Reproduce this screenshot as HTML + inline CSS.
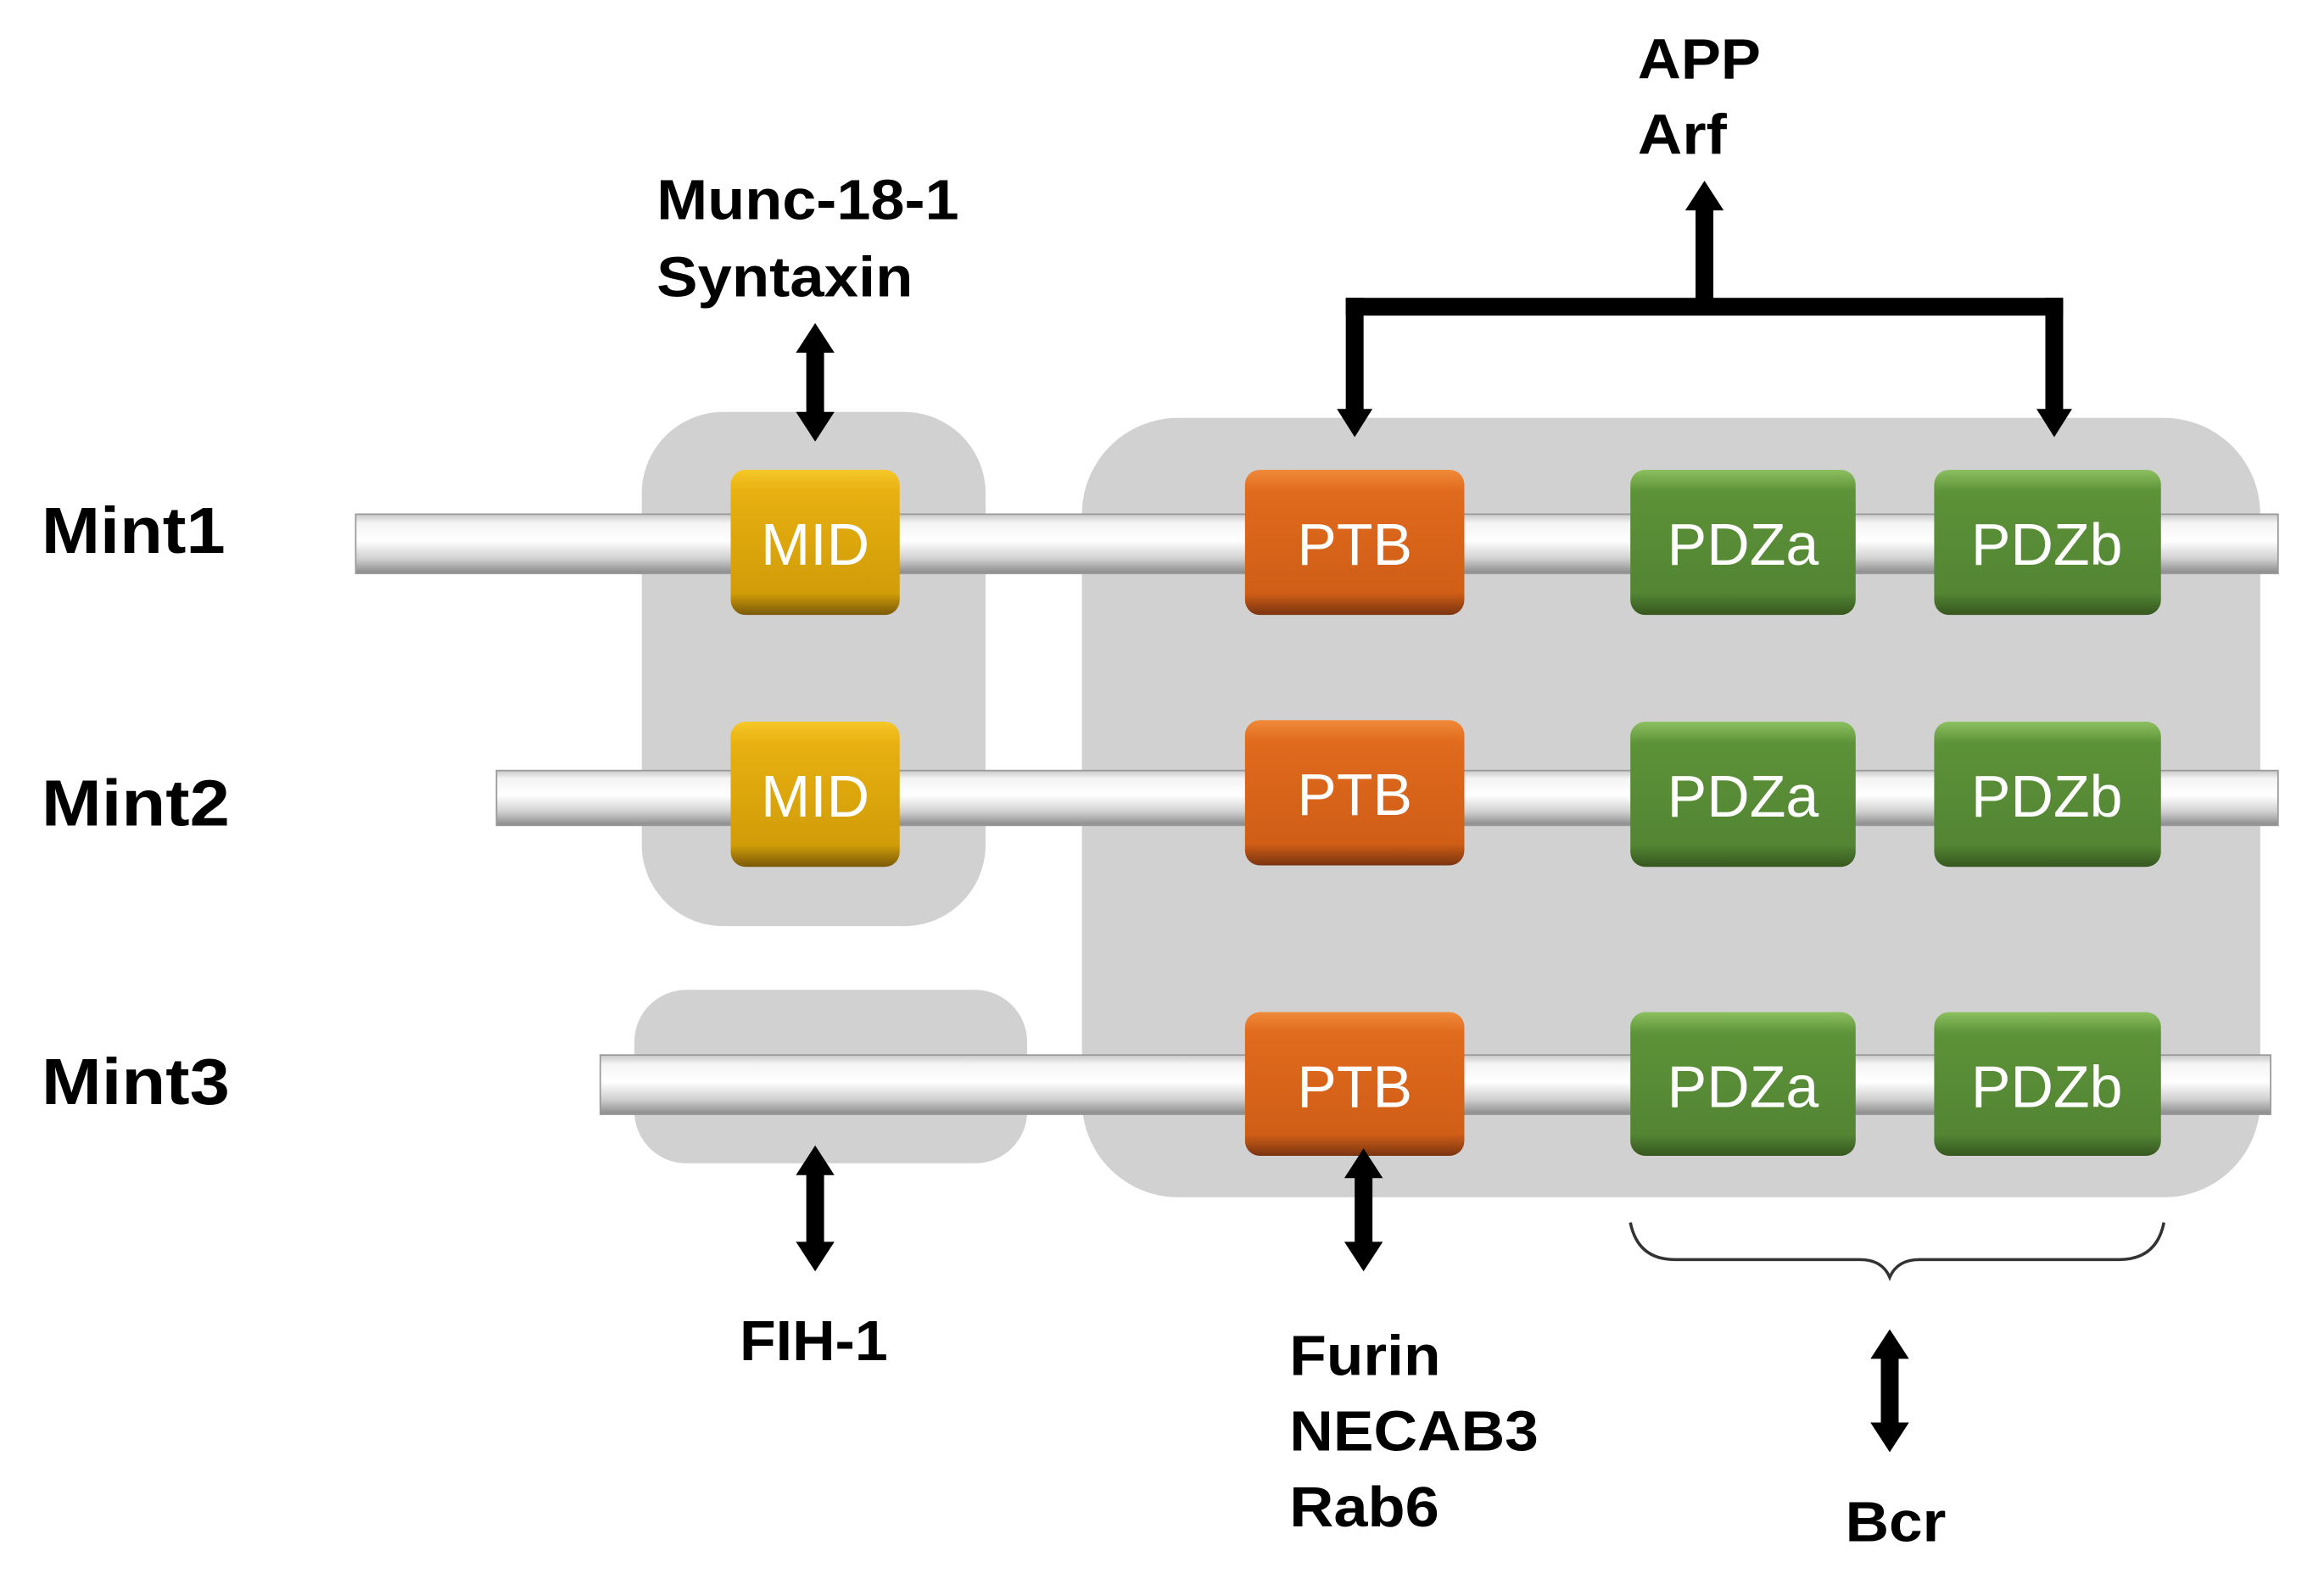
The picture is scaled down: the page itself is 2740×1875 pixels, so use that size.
<!DOCTYPE html>
<html><head><meta charset="utf-8"><style>html,body{margin:0;padding:0;background:#fff}svg{display:block}</style></head>
<body>
<svg width="2740" height="1875" viewBox="0 0 1568 1073" preserveAspectRatio="none" xmlns="http://www.w3.org/2000/svg">
<defs>
<linearGradient id="bar" x1="0" y1="0" x2="0" y2="1">
<stop offset="0" stop-color="#c8c8c8"/><stop offset="0.15" stop-color="#f4f4f4"/><stop offset="0.45" stop-color="#ffffff"/><stop offset="0.75" stop-color="#d0d0d0"/><stop offset="1" stop-color="#8a8a8a"/></linearGradient>
<linearGradient id="gy" x1="0" y1="0" x2="0" y2="1"><stop offset="0" stop-color="#f5c828"/><stop offset="0.15" stop-color="#e8b010"/><stop offset="0.85" stop-color="#d09c08"/><stop offset="1" stop-color="#7a5a08"/></linearGradient>
<linearGradient id="go" x1="0" y1="0" x2="0" y2="1"><stop offset="0" stop-color="#f08a3a"/><stop offset="0.15" stop-color="#e06a1e"/><stop offset="0.85" stop-color="#d05e16"/><stop offset="1" stop-color="#7a3410"/></linearGradient>
<linearGradient id="gg" x1="0" y1="0" x2="0" y2="1"><stop offset="0" stop-color="#8cc060"/><stop offset="0.15" stop-color="#5c9238"/><stop offset="0.85" stop-color="#538533"/><stop offset="1" stop-color="#36571f"/></linearGradient>
</defs>
<g fill="#d2d1d2">
<rect x="433" y="278" width="232" height="347" rx="55"/>
<rect x="428" y="668" width="265" height="117" rx="35"/>
<rect x="730" y="282" width="795" height="526" rx="65"/>
</g>
<g fill="url(#bar)" stroke="#9a9a9a" stroke-width="1">
<rect x="240" y="347" width="1297" height="40"/>
<rect x="335" y="520" width="1202" height="37"/>
<rect x="405" y="712" width="1127" height="40"/>
</g>
<g font-family="Liberation Sans, sans-serif" font-size="40" fill="#fff" text-anchor="middle">
<rect x="493" y="317" width="114" height="98" rx="10" fill="url(#gy)"/><text x="550" y="381">MID</text>
<rect x="493" y="487" width="114" height="98" rx="10" fill="url(#gy)"/><text x="550" y="551">MID</text>
<rect x="840" y="317" width="148" height="98" rx="10" fill="url(#go)"/><text x="914" y="381">PTB</text>
<rect x="840" y="486" width="148" height="98" rx="10" fill="url(#go)"/><text x="914" y="550">PTB</text>
<rect x="840" y="683" width="148" height="97" rx="10" fill="url(#go)"/><text x="914" y="747">PTB</text>
<rect x="1100" y="317" width="152" height="98" rx="10" fill="url(#gg)"/><text x="1176" y="381">PDZa</text>
<rect x="1100" y="487" width="152" height="98" rx="10" fill="url(#gg)"/><text x="1176" y="551">PDZa</text>
<rect x="1100" y="683" width="152" height="97" rx="10" fill="url(#gg)"/><text x="1176" y="747">PDZa</text>
<rect x="1305" y="317" width="153" height="98" rx="10" fill="url(#gg)"/><text x="1381" y="381">PDZb</text>
<rect x="1305" y="487" width="153" height="98" rx="10" fill="url(#gg)"/><text x="1381" y="551">PDZb</text>
<rect x="1305" y="683" width="153" height="97" rx="10" fill="url(#gg)"/><text x="1381" y="747">PDZb</text>
</g>
<g fill="#000">
<path d="M550 218 L563 238 L556 238 L556 278 L563 278 L550 298 L537 278 L544 278 L544 238 L537 238 Z"/>
<path d="M550 773 L563 793 L556 793 L556 838 L563 838 L550 858 L537 838 L544 838 L544 793 L537 793 Z"/>
<path d="M920 775 L933 795 L926 795 L926 838 L933 838 L920 858 L907 838 L914 838 L914 795 L907 795 Z"/>
<path d="M1275 897 L1288 917 L1281 917 L1281 960 L1288 960 L1275 980 L1262 960 L1269 960 L1269 917 L1262 917 Z"/>
<rect x="908" y="201" width="484" height="12"/>
<rect x="908" y="201" width="12" height="76"/>
<rect x="1380" y="201" width="12" height="76"/>
<path d="M902 276 L926 276 L914 295 Z"/>
<path d="M1374 276 L1398 276 L1386 295 Z"/>
<rect x="1144" y="138" width="12" height="70"/>
<path d="M1137 142 L1163 142 L1150 122 Z"/>
</g>
<path d="M1100 825 Q1105 850 1130 850 L1255 850 Q1270 850 1275 862 Q1280 850 1295 850 L1430 850 Q1455 850 1460 825" fill="none" stroke="#333" stroke-width="2"/>
<g font-family="Liberation Sans, sans-serif" font-weight="bold" fill="#000">
<text x="28" y="373" font-size="44" textLength="124" lengthAdjust="spacingAndGlyphs">Mint1</text>
<text x="28" y="557" font-size="44" textLength="127" lengthAdjust="spacingAndGlyphs">Mint2</text>
<text x="28" y="745" font-size="44" textLength="127" lengthAdjust="spacingAndGlyphs">Mint3</text>
<g font-size="38">
<text x="443" y="148" textLength="204" lengthAdjust="spacingAndGlyphs">Munc-18-1</text>
<text x="443" y="200" textLength="173" lengthAdjust="spacingAndGlyphs">Syntaxin</text>
<text x="1105" y="53" textLength="83" lengthAdjust="spacingAndGlyphs">APP</text>
<text x="1105" y="104" textLength="60" lengthAdjust="spacingAndGlyphs">Arf</text>
<text x="499" y="918" textLength="100" lengthAdjust="spacingAndGlyphs">FIH-1</text>
<text x="870" y="928" textLength="102" lengthAdjust="spacingAndGlyphs">Furin</text>
<text x="870" y="979" textLength="168" lengthAdjust="spacingAndGlyphs">NECAB3</text>
<text x="870" y="1030" textLength="101" lengthAdjust="spacingAndGlyphs">Rab6</text>
<text x="1245" y="1040" textLength="68" lengthAdjust="spacingAndGlyphs">Bcr</text>
</g>
</g>
</svg>
</body></html>
